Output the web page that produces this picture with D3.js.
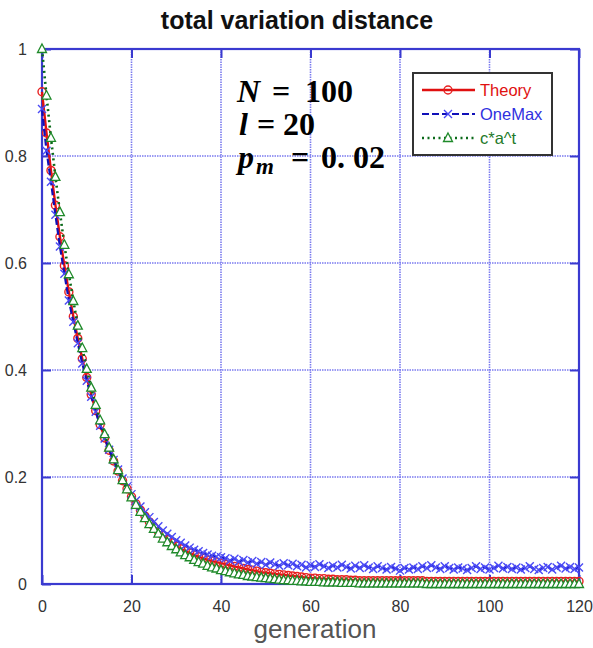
<!DOCTYPE html>
<html>
<head>
<meta charset="utf-8">
<script src="https://cdn.jsdelivr.net/npm/d3@7"></script>
<style>
  body { margin: 0; background: #fff; }
  svg { display: block; }
</style>
</head>
<body>
<svg width="593" height="648"></svg>
<script>
// series values, one per generation 0..120
var theory = [
  0.920,0.843,0.773,0.708,0.649,0.595,0.546,0.500,0.459,0.421,
  0.386,0.354,0.324,0.298,0.273,0.250,0.230,0.211,0.193,0.178,
  0.163,0.150,0.138,0.127,0.116,0.107,0.098,0.091,0.083,0.077,
  0.071,0.066,0.062,0.058,0.054,0.051,0.048,0.045,0.043,0.041,
  0.039,0.037,0.035,0.033,0.031,0.029,0.027,0.026,0.024,0.022,
  0.021,0.020,0.019,0.018,0.017,0.016,0.015,0.014,0.013,0.012,
  0.011,0.011,0.010,0.010,0.009,0.009,0.008,0.008,0.008,0.007,
  0.007,0.006,0.006,0.006,0.006,0.006,0.006,0.006,0.006,0.006,
  0.006,0.006,0.006,0.006,0.006,0.006,0.005,0.005,0.005,0.005,
  0.005,0.005,0.005,0.005,0.005,0.005,0.005,0.005,0.005,0.005,
  0.005,0.005,0.005,0.005,0.005,0.005,0.005,0.005,0.005,0.005,
  0.005,0.005,0.005,0.005,0.005,0.005,0.005,0.005,0.005,0.005,
  0.005
];

var oneMax = [
  0.888,0.810,0.752,0.690,0.631,0.580,0.530,0.490,0.450,0.412,
  0.380,0.350,0.322,0.296,0.272,0.251,0.232,0.214,0.197,0.182,
  0.168,0.156,0.145,0.134,0.125,0.116,0.108,0.100,0.094,0.088,
  0.082,0.077,0.072,0.068,0.064,0.061,0.058,0.055,0.053,0.051,
  0.050,0.048,0.044,0.047,0.042,0.045,0.040,0.043,0.038,0.041,
  0.036,0.040,0.037,0.034,0.039,0.035,0.038,0.033,0.036,0.031,
  0.035,0.032,0.037,0.033,0.030,0.034,0.031,0.036,0.032,0.029,
  0.034,0.030,0.035,0.031,0.028,0.033,0.030,0.027,0.032,0.029,
  0.025,0.030,0.027,0.031,0.028,0.033,0.030,0.035,0.031,0.028,
  0.033,0.030,0.027,0.031,0.029,0.026,0.030,0.033,0.028,0.031,
  0.027,0.030,0.034,0.029,0.032,0.028,0.031,0.027,0.030,0.033,
  0.028,0.026,0.030,0.032,0.027,0.031,0.034,0.029,0.032,0.028,
  0.031
];

var fitCurve = [
  1.000,0.913,0.834,0.761,0.695,0.634,0.579,0.529,0.483,0.441,
  0.402,0.367,0.335,0.306,0.280,0.255,0.233,0.213,0.194,0.177,
  0.162,0.148,0.135,0.123,0.112,0.103,0.094,0.085,0.078,0.071,
  0.065,0.059,0.054,0.050,0.045,0.041,0.038,0.034,0.031,0.029,
  0.026,0.024,0.022,0.020,0.018,0.017,0.015,0.014,0.013,0.012,
  0.011,0.010,0.009,0.008,0.007,0.007,0.006,0.006,0.005,0.005,
  0.004,0.004,0.004,0.003,0.003,0.003,0.003,0.002,0.002,0.002,
  0.002,0.001,0.001,0.001,0.001,0.001,0.001,0.001,0.001,0.001,
  0.001,0.001,0.001,0.001,0.001,0.001,0.000,0.000,0.000,0.000,
  0.000,0.000,0.000,0.000,0.000,0.000,0.000,0.000,0.000,0.000,
  0.000,0.000,0.000,0.000,0.000,0.000,0.000,0.000,0.000,0.000,
  0.000,0.000,0.000,0.000,0.000,0.000,0.000,0.000,0.000,0.000,
  0.000
];

var seriesNames = ['Theory', 'OneMax', 'c*a^t'];
var xTicks = [0, 20, 40, 60, 80, 100, 120];
var yTicks = [0, 0.2, 0.4, 0.6, 0.8, 1];
var yTickLabels = ['0', '0.2', '0.4', '0.6', '0.8', '1'];

var svg = d3.select('svg');

// plot frame
var plot = {l: 42, r: 579, t: 49, b: 584};

var xScale = d3.scaleLinear().domain([0, 120]).range([plot.l, plot.r]);
var yScale = d3.scaleLinear().domain([0, 1]).range([plot.b, plot.t]);

var frameColor = '#3a3ad0';
var gridColor = '#7b7bef';

// title
svg.append('text')
    .attr('x', 297)
    .attr('y', 29)
    .attr('text-anchor', 'middle')
    .style('font-family', 'Liberation Sans, Arial, sans-serif')
    .style('font-weight', 'bold')
    .style('font-size', '25px')
    .style('fill', '#111')
    .text('total variation distance');

// grid lines (dotted)
var gridG = svg.append('g');
gridG.selectAll('.vgrid')
    .data(xTicks.slice(1, -1))
    .enter().append('line')
    .attr('x1', function(d) { return xScale(d); })
    .attr('x2', function(d) { return xScale(d); })
    .attr('y1', plot.t).attr('y2', plot.b)
    .attr('stroke', gridColor)
    .attr('stroke-width', 1.6)
    .attr('stroke-dasharray', '1.5,1');
gridG.selectAll('.hgrid')
    .data(yTicks.slice(1, -1))
    .enter().append('line')
    .attr('y1', function(d) { return yScale(d); })
    .attr('y2', function(d) { return yScale(d); })
    .attr('x1', plot.l).attr('x2', plot.r)
    .attr('stroke', gridColor)
    .attr('stroke-width', 1.6)
    .attr('stroke-dasharray', '1.5,1');

// axes with inward ticks
var axisFont = 'Liberation Sans, Arial, sans-serif';

var xAxisG = svg.append('g')
    .attr('transform', 'translate(0,' + plot.b + ')')
    .call(d3.axisBottom(xScale).tickValues(xTicks).tickSizeInner(-9).tickSizeOuter(0).tickPadding(17)
        .tickFormat(d3.format('d')));
var xTopG = svg.append('g')
    .attr('transform', 'translate(0,' + plot.t + ')')
    .call(d3.axisTop(xScale).tickValues(xTicks).tickSizeInner(-9).tickSizeOuter(0).tickFormat(''));
var yAxisG = svg.append('g')
    .attr('transform', 'translate(' + plot.l + ',0)')
    .call(d3.axisLeft(yScale).tickValues(yTicks).tickSizeInner(-9).tickSizeOuter(0).tickPadding(15)
        .tickFormat(function(d, i) { return yTickLabels[i]; }));
var yRightG = svg.append('g')
    .attr('transform', 'translate(' + plot.r + ',0)')
    .call(d3.axisRight(yScale).tickValues(yTicks).tickSizeInner(-9).tickSizeOuter(0).tickFormat(''));

[xAxisG, xTopG, yAxisG, yRightG].forEach(function(g) {
    g.select('.domain').remove();
    g.selectAll('.tick line').attr('stroke', frameColor).attr('stroke-width', 2);
    g.selectAll('.tick text')
        .style('font-family', axisFont)
        .style('font-size', '16px')
        .style('fill', '#333');
});
yAxisG.selectAll('.tick text').attr('dy', '0.35em');

svg.append('rect')
    .attr('x', plot.l).attr('y', plot.t)
    .attr('width', plot.r - plot.l).attr('height', plot.b - plot.t)
    .attr('fill', 'none')
    .attr('stroke', frameColor)
    .attr('stroke-width', 2.2);

// x axis title
svg.append('text')
    .attr('x', 315)
    .attr('y', 638)
    .attr('text-anchor', 'middle')
    .style('font-family', axisFont)
    .style('font-size', '26px')
    .style('fill', '#555')
    .text('generation');

// series
var series = [
    {name: seriesNames[0], values: theory, line: '#e01010', marker: '#e82020', dash: null, width: 2.4, shape: 'circle'},
    {name: seriesNames[1], values: oneMax, line: '#1010b8', marker: '#4a4af5', dash: '7,3', width: 2.2, shape: 'cross'},
    {name: seriesNames[2], values: fitCurve, line: '#0b6a1a', marker: '#1f8a2a', dash: '2,3.5', width: 2.6, shape: 'triangle'}
];

var line = d3.line()
    .x(function(d, i) { return xScale(i); })
    .y(function(d) { return yScale(d); });

function drawMarker(g, shape, color, x, y) {
    if (shape === 'circle') {
        g.append('circle').attr('cx', x).attr('cy', y).attr('r', 4)
            .attr('fill', 'none').attr('stroke', color).attr('stroke-width', 1.4);
    } else if (shape === 'cross') {
        g.append('path')
            .attr('d', 'M' + (x - 4) + ',' + (y - 4) + 'L' + (x + 4) + ',' + (y + 4) +
                'M' + (x - 4) + ',' + (y + 4) + 'L' + (x + 4) + ',' + (y - 4))
            .attr('stroke', color).attr('stroke-width', 1.4).attr('fill', 'none');
    } else {
        g.append('path')
            .attr('d', 'M' + x + ',' + (y - 5) + 'L' + (x + 4.5) + ',' + (y + 3.5) + 'L' + (x - 4.5) + ',' + (y + 3.5) + 'Z')
            .attr('stroke', color).attr('stroke-width', 1.3).attr('fill', '#fff');
    }
}

series.forEach(function(s) {
    var g = svg.append('g').attr('class', 'series');
    g.append('path')
        .datum(s.values)
        .attr('d', line)
        .attr('fill', 'none')
        .attr('stroke', s.line)
        .attr('stroke-width', s.width)
        .attr('stroke-dasharray', s.dash);
    s.values.forEach(function(v, i) {
        drawMarker(g, s.shape, s.marker, xScale(i), yScale(v));
    });
});

// legend
var legend = svg.append('g').attr('transform', 'translate(413,73)');
legend.append('rect')
    .attr('width', 139).attr('height', 82)
    .attr('fill', '#fff')
    .attr('stroke', '#333')
    .attr('stroke-width', 2);

var legendColors = ['#e01010', '#3030e0', '#1f7a2a'];
series.forEach(function(s, i) {
    var y = 17 + i * 24;
    legend.append('line')
        .attr('x1', 9).attr('x2', 62)
        .attr('y1', y).attr('y2', y)
        .attr('stroke', s.line)
        .attr('stroke-width', s.width)
        .attr('stroke-dasharray', s.dash);
    drawMarker(legend, s.shape, s.marker, 35, y);
    legend.append('text')
        .attr('x', 67)
        .attr('y', y + 6)
        .style('font-family', axisFont)
        .style('font-size', '16.5px')
        .style('fill', legendColors[i])
        .text(s.name);
});

// parameter annotation
var mathFont = 'Liberation Serif, Times New Roman, serif';
var params = [
    {y: 102, parts: [['N', 237, true], ['=', 272, false], ['100', 305, false]]},
    {y: 135, parts: [['l', 239, true], ['=', 257, false], ['20', 283, false]]},
    {y: 168, parts: [['p', 238, true], ['=', 291, false], ['0. 02', 321, false]]}
];
params.forEach(function(p) {
    p.parts.forEach(function(part) {
        svg.append('text')
            .attr('x', part[1])
            .attr('y', p.y)
            .style('font-family', mathFont)
            .style('font-weight', 'bold')
            .style('font-style', part[2] ? 'italic' : 'normal')
            .style('font-size', '32px')
            .style('fill', '#000')
            .style('white-space', 'pre')
            .text(part[0]);
    });
});
svg.append('text')
    .attr('x', 256)
    .attr('y', 174)
    .style('font-family', mathFont)
    .style('font-weight', 'bold')
    .style('font-style', 'italic')
    .style('font-size', '23px')
    .style('fill', '#000')
    .text('m');
</script>
</body>
</html>
